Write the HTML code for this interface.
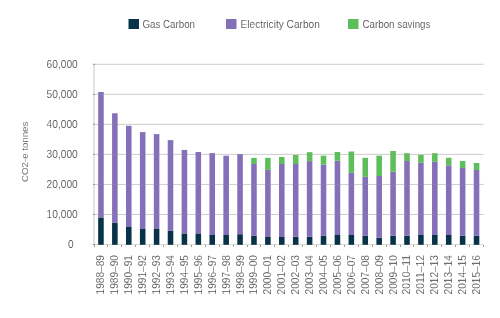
<!DOCTYPE html>
<html><head><meta charset="utf-8"><style>
html,body{margin:0;padding:0;background:#fff;width:500px;height:318px;overflow:hidden}
svg{display:block;position:absolute;left:0;top:0;will-change:transform}
text{font-family:"Liberation Sans",sans-serif;fill:#404040;stroke:#fff;stroke-width:0.15px;paint-order:normal}
</style></head><body>
<svg width="500" height="318" viewBox="0 0 500 318">
<rect x="0" y="0" width="500" height="318" fill="#fff"/>

<rect x="93.0" y="213.97" width="390.50" height="1" fill="#dcdcdc"/>
<rect x="93.0" y="183.94" width="390.50" height="1" fill="#dcdcdc"/>
<rect x="93.0" y="153.91" width="390.50" height="1" fill="#dcdcdc"/>
<rect x="93.0" y="123.88" width="390.50" height="1" fill="#dcdcdc"/>
<rect x="93.0" y="93.85" width="390.50" height="1" fill="#dcdcdc"/>
<rect x="93.0" y="63.82" width="390.50" height="1" fill="#dcdcdc"/>
<rect x="93.5" y="64" width="1" height="181" fill="#c8c8c8"/>
<rect x="92.0" y="244" width="391.50" height="1" fill="#dadada"/>
<rect x="94" y="245" width="1" height="2" fill="#9a9a9a"/>
<rect x="107" y="245" width="1" height="2" fill="#9a9a9a"/>
<rect x="121" y="245" width="1" height="2" fill="#9a9a9a"/>
<rect x="135" y="245" width="1" height="2" fill="#9a9a9a"/>
<rect x="149" y="245" width="1" height="2" fill="#9a9a9a"/>
<rect x="163" y="245" width="1" height="2" fill="#9a9a9a"/>
<rect x="177" y="245" width="1" height="2" fill="#9a9a9a"/>
<rect x="191" y="245" width="1" height="2" fill="#9a9a9a"/>
<rect x="205" y="245" width="1" height="2" fill="#9a9a9a"/>
<rect x="219" y="245" width="1" height="2" fill="#9a9a9a"/>
<rect x="233" y="245" width="1" height="2" fill="#9a9a9a"/>
<rect x="247" y="245" width="1" height="2" fill="#9a9a9a"/>
<rect x="260" y="245" width="1" height="2" fill="#9a9a9a"/>
<rect x="274" y="245" width="1" height="2" fill="#9a9a9a"/>
<rect x="288" y="245" width="1" height="2" fill="#9a9a9a"/>
<rect x="302" y="245" width="1" height="2" fill="#9a9a9a"/>
<rect x="316" y="245" width="1" height="2" fill="#9a9a9a"/>
<rect x="330" y="245" width="1" height="2" fill="#9a9a9a"/>
<rect x="344" y="245" width="1" height="2" fill="#9a9a9a"/>
<rect x="358" y="245" width="1" height="2" fill="#9a9a9a"/>
<rect x="372" y="245" width="1" height="2" fill="#9a9a9a"/>
<rect x="386" y="245" width="1" height="2" fill="#9a9a9a"/>
<rect x="400" y="245" width="1" height="2" fill="#9a9a9a"/>
<rect x="413" y="245" width="1" height="2" fill="#9a9a9a"/>
<rect x="427" y="245" width="1" height="2" fill="#9a9a9a"/>
<rect x="441" y="245" width="1" height="2" fill="#9a9a9a"/>
<rect x="455" y="245" width="1" height="2" fill="#9a9a9a"/>
<rect x="469" y="245" width="1" height="2" fill="#9a9a9a"/>
<rect x="483" y="245" width="1" height="2" fill="#9a9a9a"/>
<rect x="93" y="244.00" width="2" height="1" fill="#9a9a9a"/>
<rect x="93" y="213.97" width="2" height="1" fill="#9a9a9a"/>
<rect x="93" y="183.94" width="2" height="1" fill="#9a9a9a"/>
<rect x="93" y="153.91" width="2" height="1" fill="#9a9a9a"/>
<rect x="93" y="123.88" width="2" height="1" fill="#9a9a9a"/>
<rect x="93" y="93.85" width="2" height="1" fill="#9a9a9a"/>
<rect x="93" y="63.82" width="2" height="1" fill="#9a9a9a"/>
<rect x="98.17" y="217.40" width="5.56" height="27.40" fill="#073247"/>
<rect x="98.17" y="92.00" width="5.56" height="125.40" fill="#8470b8"/>
<rect x="112.08" y="222.60" width="5.56" height="22.20" fill="#073247"/>
<rect x="112.08" y="113.30" width="5.56" height="109.30" fill="#8470b8"/>
<rect x="125.99" y="227.00" width="5.56" height="17.80" fill="#073247"/>
<rect x="125.99" y="125.80" width="5.56" height="101.20" fill="#8470b8"/>
<rect x="139.91" y="229.00" width="5.56" height="15.80" fill="#073247"/>
<rect x="139.91" y="132.10" width="5.56" height="96.90" fill="#8470b8"/>
<rect x="153.82" y="229.00" width="5.56" height="15.80" fill="#073247"/>
<rect x="153.82" y="134.10" width="5.56" height="94.90" fill="#8470b8"/>
<rect x="167.73" y="230.60" width="5.56" height="14.20" fill="#073247"/>
<rect x="167.73" y="140.10" width="5.56" height="90.50" fill="#8470b8"/>
<rect x="181.64" y="233.40" width="5.56" height="11.40" fill="#073247"/>
<rect x="181.64" y="149.90" width="5.56" height="83.50" fill="#8470b8"/>
<rect x="195.55" y="233.40" width="5.56" height="11.40" fill="#073247"/>
<rect x="195.55" y="152.00" width="5.56" height="81.40" fill="#8470b8"/>
<rect x="209.46" y="235.00" width="5.56" height="9.80" fill="#073247"/>
<rect x="209.46" y="153.10" width="5.56" height="81.90" fill="#8470b8"/>
<rect x="223.37" y="235.00" width="5.56" height="9.80" fill="#073247"/>
<rect x="223.37" y="155.70" width="5.56" height="79.30" fill="#8470b8"/>
<rect x="237.28" y="234.20" width="5.56" height="10.60" fill="#073247"/>
<rect x="237.28" y="154.10" width="5.56" height="80.10" fill="#8470b8"/>
<rect x="251.19" y="235.80" width="5.56" height="9.00" fill="#073247"/>
<rect x="251.19" y="164.00" width="5.56" height="71.80" fill="#8470b8"/>
<rect x="251.19" y="157.90" width="5.56" height="6.10" fill="#5ebf5a"/>
<rect x="265.10" y="237.00" width="5.56" height="7.80" fill="#073247"/>
<rect x="265.10" y="169.90" width="5.56" height="67.10" fill="#8470b8"/>
<rect x="265.10" y="157.90" width="5.56" height="12.00" fill="#5ebf5a"/>
<rect x="279.01" y="237.00" width="5.56" height="7.80" fill="#073247"/>
<rect x="279.01" y="164.00" width="5.56" height="73.00" fill="#8470b8"/>
<rect x="279.01" y="157.00" width="5.56" height="7.00" fill="#5ebf5a"/>
<rect x="292.92" y="236.60" width="5.56" height="8.20" fill="#073247"/>
<rect x="292.92" y="164.00" width="5.56" height="72.60" fill="#8470b8"/>
<rect x="292.92" y="155.00" width="5.56" height="9.00" fill="#5ebf5a"/>
<rect x="306.83" y="236.60" width="5.56" height="8.20" fill="#073247"/>
<rect x="306.83" y="161.10" width="5.56" height="75.50" fill="#8470b8"/>
<rect x="306.83" y="152.20" width="5.56" height="8.90" fill="#5ebf5a"/>
<rect x="320.74" y="235.80" width="5.56" height="9.00" fill="#073247"/>
<rect x="320.74" y="164.50" width="5.56" height="71.30" fill="#8470b8"/>
<rect x="320.74" y="155.70" width="5.56" height="8.80" fill="#5ebf5a"/>
<rect x="334.66" y="235.00" width="5.56" height="9.80" fill="#073247"/>
<rect x="334.66" y="160.80" width="5.56" height="74.20" fill="#8470b8"/>
<rect x="334.66" y="152.00" width="5.56" height="8.80" fill="#5ebf5a"/>
<rect x="348.57" y="235.00" width="5.56" height="9.80" fill="#073247"/>
<rect x="348.57" y="172.80" width="5.56" height="62.20" fill="#8470b8"/>
<rect x="348.57" y="151.50" width="5.56" height="21.30" fill="#5ebf5a"/>
<rect x="362.48" y="235.80" width="5.56" height="9.00" fill="#073247"/>
<rect x="362.48" y="176.80" width="5.56" height="59.00" fill="#8470b8"/>
<rect x="362.48" y="157.90" width="5.56" height="18.90" fill="#5ebf5a"/>
<rect x="376.39" y="237.80" width="5.56" height="7.00" fill="#073247"/>
<rect x="376.39" y="176.00" width="5.56" height="61.80" fill="#8470b8"/>
<rect x="376.39" y="155.70" width="5.56" height="20.30" fill="#5ebf5a"/>
<rect x="390.30" y="235.80" width="5.56" height="9.00" fill="#073247"/>
<rect x="390.30" y="171.60" width="5.56" height="64.20" fill="#8470b8"/>
<rect x="390.30" y="151.00" width="5.56" height="20.60" fill="#5ebf5a"/>
<rect x="404.21" y="235.80" width="5.56" height="9.00" fill="#073247"/>
<rect x="404.21" y="161.00" width="5.56" height="74.80" fill="#8470b8"/>
<rect x="404.21" y="153.20" width="5.56" height="7.80" fill="#5ebf5a"/>
<rect x="418.12" y="235.00" width="5.56" height="9.80" fill="#073247"/>
<rect x="418.12" y="162.80" width="5.56" height="72.20" fill="#8470b8"/>
<rect x="418.12" y="154.80" width="5.56" height="8.00" fill="#5ebf5a"/>
<rect x="432.03" y="235.00" width="5.56" height="9.80" fill="#073247"/>
<rect x="432.03" y="161.80" width="5.56" height="73.20" fill="#8470b8"/>
<rect x="432.03" y="153.20" width="5.56" height="8.60" fill="#5ebf5a"/>
<rect x="445.94" y="235.00" width="5.56" height="9.80" fill="#073247"/>
<rect x="445.94" y="165.40" width="5.56" height="69.60" fill="#8470b8"/>
<rect x="445.94" y="157.80" width="5.56" height="7.60" fill="#5ebf5a"/>
<rect x="459.85" y="235.80" width="5.56" height="9.00" fill="#073247"/>
<rect x="459.85" y="168.00" width="5.56" height="67.80" fill="#8470b8"/>
<rect x="459.85" y="161.00" width="5.56" height="7.00" fill="#5ebf5a"/>
<rect x="473.76" y="235.80" width="5.56" height="9.00" fill="#073247"/>
<rect x="473.76" y="170.00" width="5.56" height="65.80" fill="#8470b8"/>
<rect x="473.76" y="163.00" width="5.56" height="7.00" fill="#5ebf5a"/>
<rect x="94.00" y="213.97" width="389.50" height="1" fill="#9a9a9a" fill-opacity="0.22"/>
<rect x="94.00" y="183.94" width="389.50" height="1" fill="#9a9a9a" fill-opacity="0.22"/>
<rect x="94.00" y="153.91" width="389.50" height="1" fill="#9a9a9a" fill-opacity="0.22"/>
<rect x="94.00" y="123.88" width="389.50" height="1" fill="#9a9a9a" fill-opacity="0.22"/>
<rect x="94.00" y="93.85" width="389.50" height="1" fill="#9a9a9a" fill-opacity="0.22"/>
<rect x="94.00" y="63.82" width="389.50" height="1" fill="#9a9a9a" fill-opacity="0.22"/>
<text x="73.5" y="248.20" font-size="10" text-anchor="end">0</text>
<text x="77.8" y="218.17" font-size="10" textLength="31.2" lengthAdjust="spacingAndGlyphs" text-anchor="end">10,000</text>
<text x="77.8" y="188.14" font-size="10" textLength="31.2" lengthAdjust="spacingAndGlyphs" text-anchor="end">20,000</text>
<text x="77.8" y="158.11" font-size="10" textLength="31.2" lengthAdjust="spacingAndGlyphs" text-anchor="end">30,000</text>
<text x="77.8" y="128.08" font-size="10" textLength="31.2" lengthAdjust="spacingAndGlyphs" text-anchor="end">40,000</text>
<text x="77.8" y="98.05" font-size="10" textLength="31.2" lengthAdjust="spacingAndGlyphs" text-anchor="end">50,000</text>
<text x="77.8" y="68.02" font-size="10" textLength="31.2" lengthAdjust="spacingAndGlyphs" text-anchor="end">60,000</text>
<text transform="translate(104.41,255) rotate(-90)" font-size="10" textLength="39.4" lengthAdjust="spacingAndGlyphs" text-anchor="end">1988–89</text>
<text transform="translate(118.32,255) rotate(-90)" font-size="10" textLength="39.4" lengthAdjust="spacingAndGlyphs" text-anchor="end">1989–90</text>
<text transform="translate(132.23,255) rotate(-90)" font-size="10" textLength="39.4" lengthAdjust="spacingAndGlyphs" text-anchor="end">1990–91</text>
<text transform="translate(146.14,255) rotate(-90)" font-size="10" textLength="39.4" lengthAdjust="spacingAndGlyphs" text-anchor="end">1991–92</text>
<text transform="translate(160.05,255) rotate(-90)" font-size="10" textLength="39.4" lengthAdjust="spacingAndGlyphs" text-anchor="end">1992–93</text>
<text transform="translate(173.96,255) rotate(-90)" font-size="10" textLength="39.4" lengthAdjust="spacingAndGlyphs" text-anchor="end">1993–94</text>
<text transform="translate(187.87,255) rotate(-90)" font-size="10" textLength="39.4" lengthAdjust="spacingAndGlyphs" text-anchor="end">1994–95</text>
<text transform="translate(201.78,255) rotate(-90)" font-size="10" textLength="39.4" lengthAdjust="spacingAndGlyphs" text-anchor="end">1995–96</text>
<text transform="translate(215.69,255) rotate(-90)" font-size="10" textLength="39.4" lengthAdjust="spacingAndGlyphs" text-anchor="end">1996–97</text>
<text transform="translate(229.60,255) rotate(-90)" font-size="10" textLength="39.4" lengthAdjust="spacingAndGlyphs" text-anchor="end">1997–98</text>
<text transform="translate(243.51,255) rotate(-90)" font-size="10" textLength="39.4" lengthAdjust="spacingAndGlyphs" text-anchor="end">1998–99</text>
<text transform="translate(257.42,255) rotate(-90)" font-size="10" textLength="39.4" lengthAdjust="spacingAndGlyphs" text-anchor="end">1999–00</text>
<text transform="translate(271.33,255) rotate(-90)" font-size="10" textLength="39.4" lengthAdjust="spacingAndGlyphs" text-anchor="end">2000–01</text>
<text transform="translate(285.24,255) rotate(-90)" font-size="10" textLength="39.4" lengthAdjust="spacingAndGlyphs" text-anchor="end">2001–02</text>
<text transform="translate(299.16,255) rotate(-90)" font-size="10" textLength="39.4" lengthAdjust="spacingAndGlyphs" text-anchor="end">2002–03</text>
<text transform="translate(313.07,255) rotate(-90)" font-size="10" textLength="39.4" lengthAdjust="spacingAndGlyphs" text-anchor="end">2003–04</text>
<text transform="translate(326.98,255) rotate(-90)" font-size="10" textLength="39.4" lengthAdjust="spacingAndGlyphs" text-anchor="end">2004–05</text>
<text transform="translate(340.89,255) rotate(-90)" font-size="10" textLength="39.4" lengthAdjust="spacingAndGlyphs" text-anchor="end">2005–06</text>
<text transform="translate(354.80,255) rotate(-90)" font-size="10" textLength="39.4" lengthAdjust="spacingAndGlyphs" text-anchor="end">2006–07</text>
<text transform="translate(368.71,255) rotate(-90)" font-size="10" textLength="39.4" lengthAdjust="spacingAndGlyphs" text-anchor="end">2007–08</text>
<text transform="translate(382.62,255) rotate(-90)" font-size="10" textLength="39.4" lengthAdjust="spacingAndGlyphs" text-anchor="end">2008–09</text>
<text transform="translate(396.53,255) rotate(-90)" font-size="10" textLength="39.4" lengthAdjust="spacingAndGlyphs" text-anchor="end">2009–10</text>
<text transform="translate(410.44,255) rotate(-90)" font-size="10" textLength="39.4" lengthAdjust="spacingAndGlyphs" text-anchor="end">2010–11</text>
<text transform="translate(424.35,255) rotate(-90)" font-size="10" textLength="39.4" lengthAdjust="spacingAndGlyphs" text-anchor="end">2011–12</text>
<text transform="translate(438.26,255) rotate(-90)" font-size="10" textLength="39.4" lengthAdjust="spacingAndGlyphs" text-anchor="end">2012–13</text>
<text transform="translate(452.17,255) rotate(-90)" font-size="10" textLength="39.4" lengthAdjust="spacingAndGlyphs" text-anchor="end">2013–14</text>
<text transform="translate(466.08,255) rotate(-90)" font-size="10" textLength="39.4" lengthAdjust="spacingAndGlyphs" text-anchor="end">2014–15</text>
<text transform="translate(479.99,255) rotate(-90)" font-size="10" textLength="39.4" lengthAdjust="spacingAndGlyphs" text-anchor="end">2015–16</text>
<text transform="translate(28.3,151.8) rotate(-90)" font-size="9.7" text-anchor="middle">CO2-e tonnes</text>
<rect x="128.5" y="19" width="10.5" height="10" fill="#073247"/>
<text x="142.5" y="28" font-size="10" textLength="52.5" lengthAdjust="spacingAndGlyphs">Gas Carbon</text>
<rect x="226" y="19" width="10.5" height="10" fill="#8470b8"/>
<text x="240.5" y="28" font-size="10" textLength="79.3" lengthAdjust="spacingAndGlyphs">Electricity Carbon</text>
<rect x="348" y="19" width="10.5" height="10" fill="#5ebf5a"/>
<text x="362.5" y="28" font-size="10" textLength="67.9" lengthAdjust="spacingAndGlyphs">Carbon savings</text>
</svg></body></html>
